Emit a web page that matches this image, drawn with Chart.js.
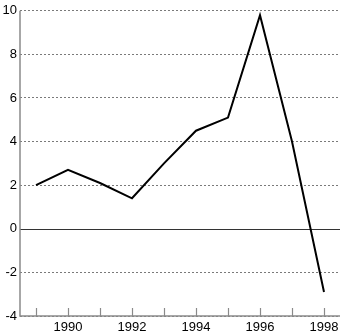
<!DOCTYPE html>
<html>
<head>
<meta charset="utf-8">
<script src="https://cdn.jsdelivr.net/npm/chart.js@4"></script>
<style>
html,body{margin:0;padding:0;background:#fff;}
#wrap{width:340px;height:331px;position:relative;}
</style>
</head>
<body>
<div id="wrap"><canvas id="c" width="340" height="331"></canvas></div>
<script>
const years = ['1989','1990','1991','1992','1993','1994','1995','1996','1997','1998'];
const values = [2.0, 2.7, 2.1, 1.4, 3.0, 4.5, 5.1, 9.8, 4.0, -2.9];
const yTicks = [-4, -2, 0, 2, 4, 6, 8, 10];

const axesPlugin = {
  id: 'axesPlugin',
  beforeDatasetsDraw(chart) {
    const ctx = chart.ctx, a = chart.chartArea;
    const x = chart.scales.x, y = chart.scales.y;
    ctx.save();
    const y0 = Math.round(y.getPixelForValue(0)) + 0.5;
    ctx.strokeStyle = '#333';
    ctx.lineWidth = 1;
    ctx.beginPath(); ctx.moveTo(a.left, y0); ctx.lineTo(a.right, y0); ctx.stroke();
    ctx.strokeStyle = '#8a8a8a';
    ctx.lineWidth = 1.5;
    const yb = y.getPixelForValue(-4);
    ctx.beginPath(); ctx.moveTo(a.left, a.top); ctx.lineTo(a.left, yb); ctx.lineTo(a.right, yb); ctx.stroke();
    ctx.lineWidth = 1.2;
    for (let i = 0; i < years.length; i++) {
      const px = Math.round(x.getPixelForTick(i)) + 0.5;
      ctx.beginPath(); ctx.moveTo(px, yb); ctx.lineTo(px, yb - 8); ctx.stroke();
    }
    ctx.restore();
  }
};

new Chart(document.getElementById('c'), {
  type: 'line',
  data: {
    labels: years,
    datasets: [{
      data: values,
      borderColor: '#000',
      borderWidth: 2,
      pointRadius: 0,
      tension: 0,
      fill: false
    }]
  },
  options: {
    responsive: false,
    animation: false,
    devicePixelRatio: 1,
    layout: { padding: { top: 9, left: 0, right: 0, bottom: 0 } },
    plugins: { legend: { display: false }, tooltip: { enabled: false } },
    scales: {
      x: {
        type: 'category',
        offset: true,
        grid: { display: false, offset: false },
        border: { display: false },
        ticks: {
          autoSkip: false,
          maxRotation: 0,
          padding: -3,
          color: '#000',
          font: { family: 'Liberation Sans', size: 13, lineHeight: 1 },
          callback: function(v, i) { const l = years[i]; return (parseInt(l) % 2 === 0) ? l : ''; }
        },
        afterFit(s) { s.height = 15; }
      },
      y: {
        min: -4, max: 10,
        afterBuildTicks(s) { s.ticks = yTicks.map(v => ({ value: v })); },
        grid: {
          color: (c) => (c.tick && c.tick.value === 0) ? 'rgba(0,0,0,0)' : '#7a7a7a',
          lineWidth: 1,
          drawTicks: false
        },
        border: { display: false, dash: [2, 2] },
        ticks: {
          padding: 3,
          color: '#000',
          font: { family: 'Liberation Sans', size: 13 }
        },
        afterFit(s) { s.width = 20; }
      }
    }
  },
  plugins: [axesPlugin]
});
</script>
</body>
</html>
